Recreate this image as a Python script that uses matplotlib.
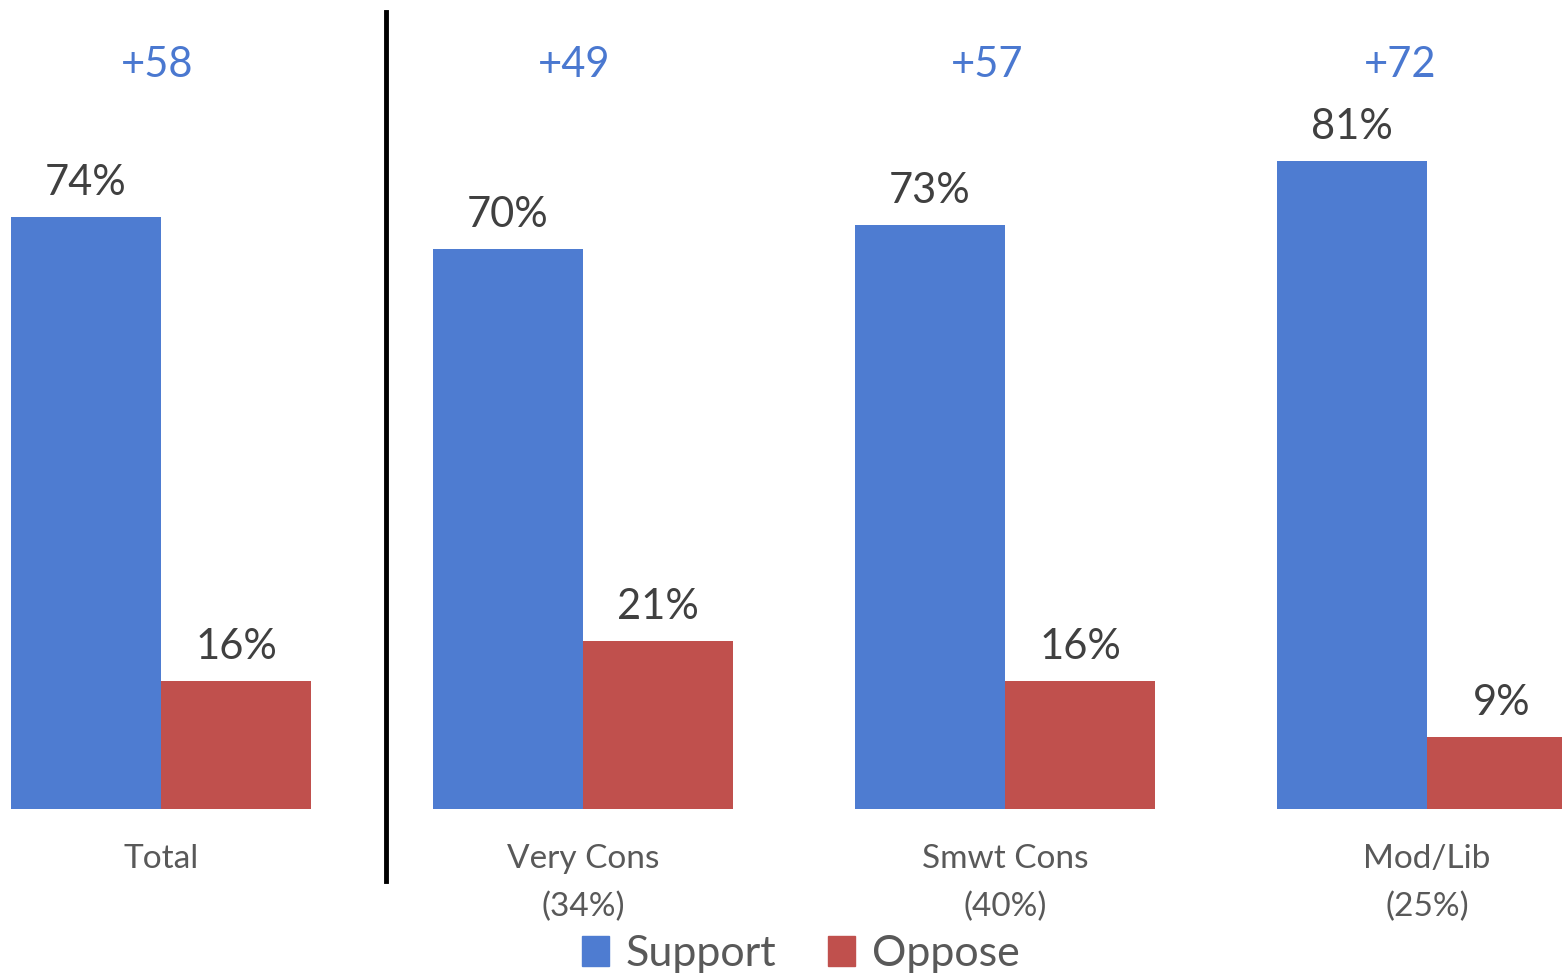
import matplotlib.pyplot as plt
from matplotlib.patches import Patch

categories = ["Total", "Very Cons\n(34%)", "Smwt Cons\n(40%)", "Mod/Lib\n(25%)"]
support = [74, 70, 73, 81]
oppose = [16, 21, 16, 9]
margins = ["+58", "+49", "+57", "+72"]

blue = "#4E7CD1"
red = "#C0504D"
plt.rcParams['font.family'] = ['Lato', 'DejaVu Sans']

fig = plt.figure(figsize=(15.62, 9.74), dpi=100)
ax = fig.add_axes([0, 0, 1, 1])
ax.set_xlim(-161 / 422, (1562 - 161) / 422)
ax.set_ylim(-(974 - 809) / 8, 809 / 8)
ax.axis("off")

w = 150 / 422
x = list(range(len(categories)))
ax.bar([i - w / 2 for i in x], support, width=w, color=blue)
ax.bar([i + w / 2 for i in x], oppose, width=w, color=red)

# the margin labels sit a bit left of the group centres in the original
margin_shift = [-4 / 422, -9 / 422, -18 / 422, -27 / 422]

for i in x:
    ax.text(i - w / 2, support[i] + 2.7, f"{support[i]}%", ha="center", va="baseline",
            fontsize=30, color="#404040")
    ax.text(i + w / 2, oppose[i] + 2.7, f"{oppose[i]}%", ha="center", va="baseline",
            fontsize=30, color="#404040")
    ax.text(i + margin_shift[i], 91.5, margins[i], ha="center", va="baseline",
            fontsize=30, color="#4A78D0")
    ax.text(i, -4.4, categories[i], ha="center", va="top", fontsize=24,
            color="#595959", linespacing=1.7)

ax.plot([(386 - 161) / 422] * 2, [(809 - 12) / 8, (809 - 881) / 8], color="black", lw=3.5)

handles = [Patch(color=blue, label="Support"), Patch(color=red, label="Oppose")]
fig.legend(handles=handles, loc="center", bbox_to_anchor=(801 / 1562, 1 - 954 / 974),
           ncol=2, frameon=False, fontsize=31, handlelength=0.62, handleheight=0.67,
           handletextpad=0.4, columnspacing=1.2, labelcolor="#595959", borderpad=0)

fig.savefig("out.png", dpi=100)
